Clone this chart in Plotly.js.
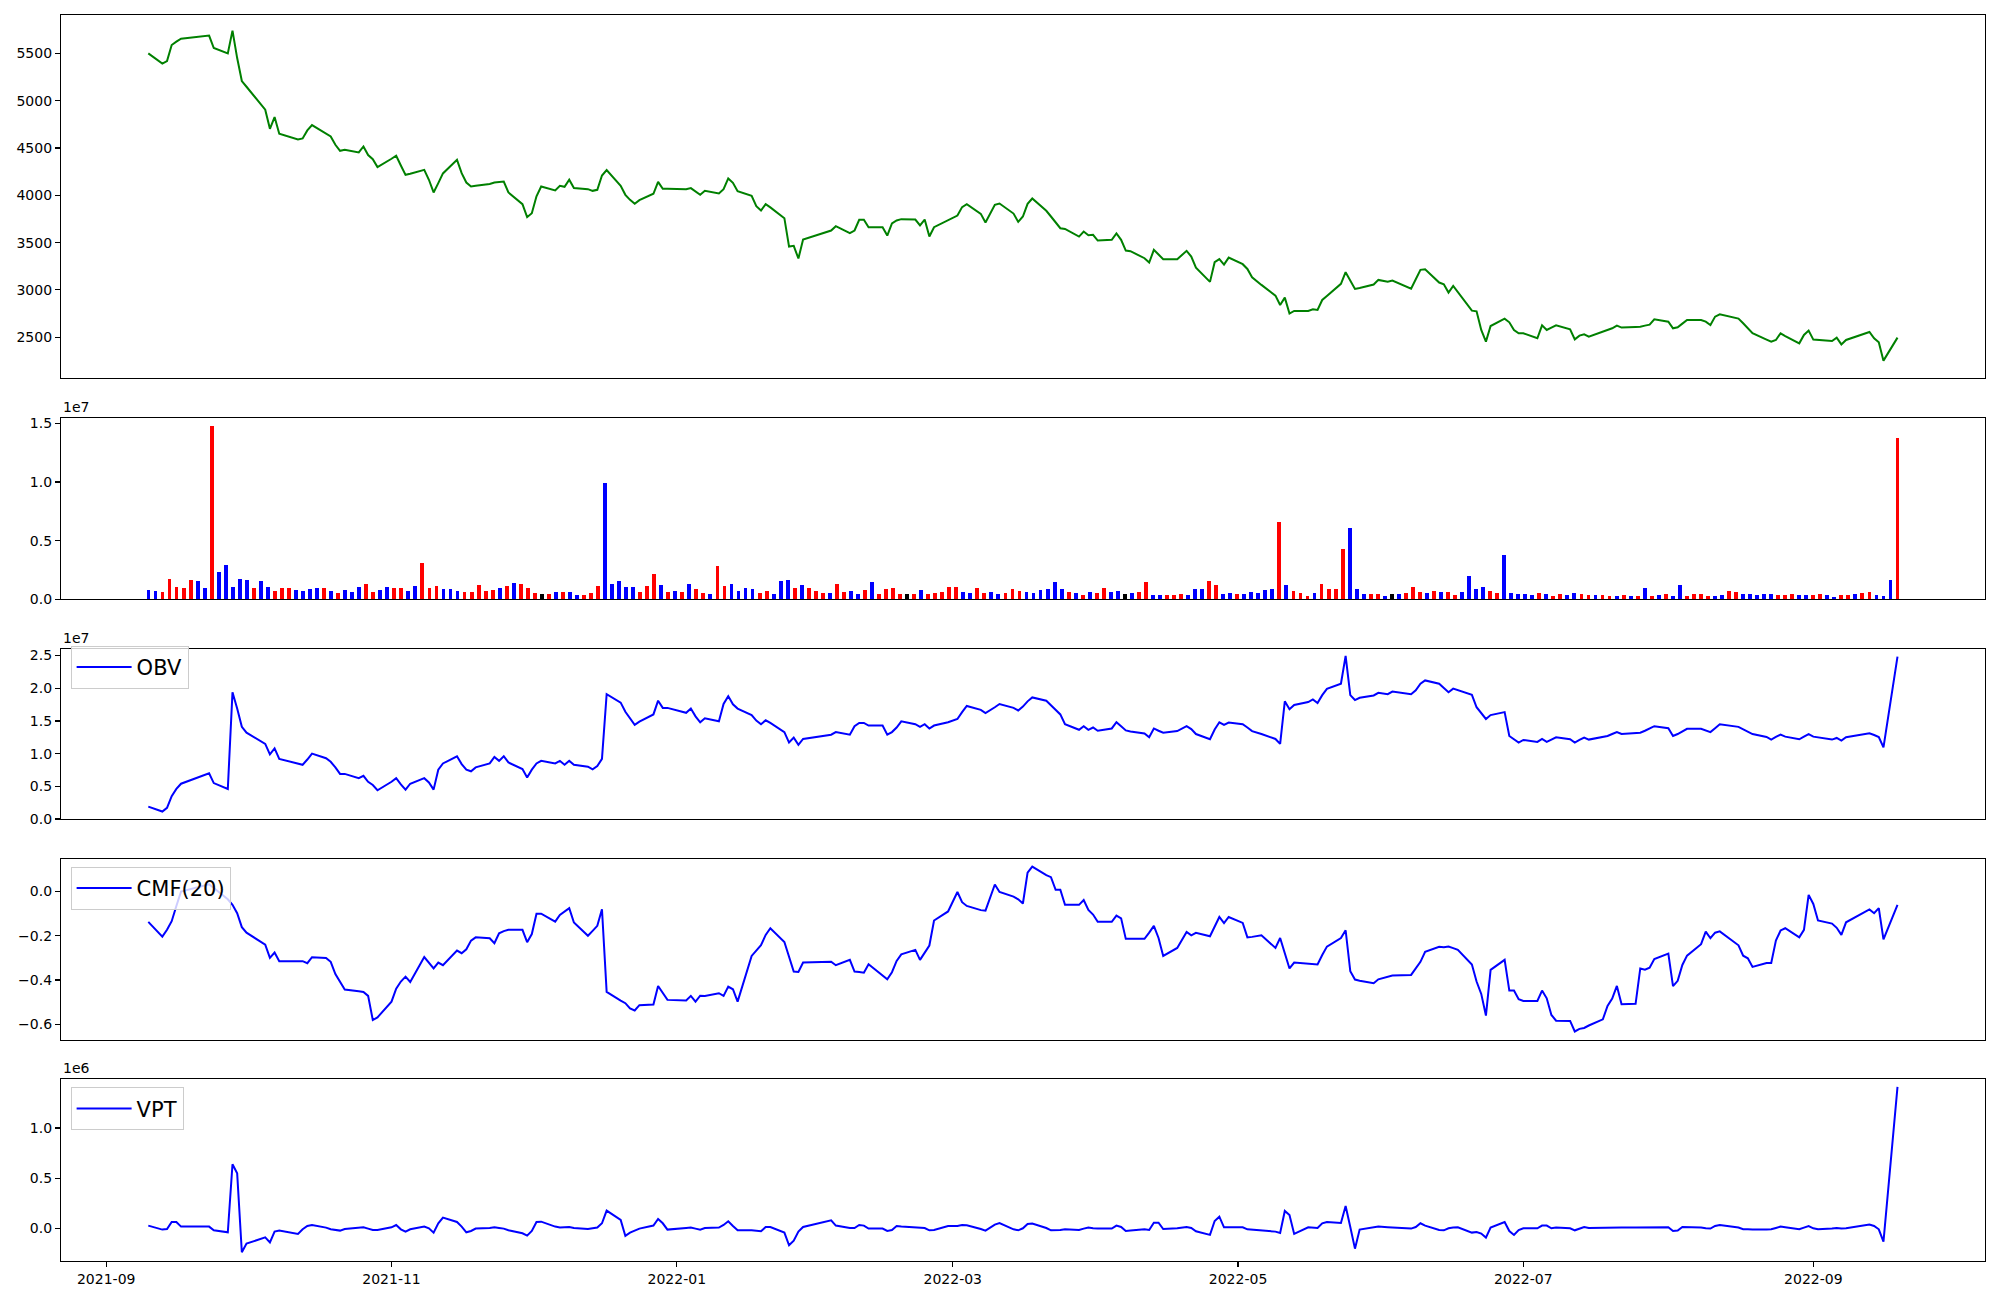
<!DOCTYPE html>
<html>
<head>
<meta charset="utf-8">
<script src="https://cdn.plot.ly/plotly-3.0.1.min.js"></script>
<style>html,body{margin:0;padding:0;background:#fff;}#chart{width:2000px;height:1300px;}</style>
</head>
<body>
<div id="chart"></div>
<script>
// Trading days (KRX calendar)
const dates = [
"2021-09-10","2021-09-13","2021-09-14","2021-09-15","2021-09-16","2021-09-17","2021-09-23","2021-09-24","2021-09-27","2021-09-28","2021-09-29","2021-09-30",
"2021-10-01","2021-10-05","2021-10-06","2021-10-07","2021-10-08","2021-10-12","2021-10-13","2021-10-14","2021-10-15","2021-10-18","2021-10-19","2021-10-20","2021-10-21","2021-10-22","2021-10-25","2021-10-26","2021-10-27","2021-10-28","2021-10-29",
"2021-11-01","2021-11-02","2021-11-03","2021-11-04","2021-11-05","2021-11-08","2021-11-09","2021-11-10","2021-11-11","2021-11-12","2021-11-15","2021-11-16","2021-11-17","2021-11-18","2021-11-19","2021-11-22","2021-11-23","2021-11-24","2021-11-25","2021-11-26","2021-11-29","2021-11-30",
"2021-12-01","2021-12-02","2021-12-03","2021-12-06","2021-12-07","2021-12-08","2021-12-09","2021-12-10","2021-12-13","2021-12-14","2021-12-15","2021-12-16","2021-12-17","2021-12-20","2021-12-21","2021-12-22","2021-12-23","2021-12-24","2021-12-27","2021-12-28","2021-12-29","2021-12-30",
"2022-01-03","2022-01-04","2022-01-05","2022-01-06","2022-01-07","2022-01-10","2022-01-11","2022-01-12","2022-01-13","2022-01-14","2022-01-17","2022-01-18","2022-01-19","2022-01-20","2022-01-21","2022-01-24","2022-01-25","2022-01-26","2022-01-27","2022-01-28",
"2022-02-03","2022-02-04","2022-02-07","2022-02-08","2022-02-09","2022-02-10","2022-02-11","2022-02-14","2022-02-15","2022-02-16","2022-02-17","2022-02-18","2022-02-21","2022-02-22","2022-02-23","2022-02-24","2022-02-25","2022-02-28",
"2022-03-02","2022-03-03","2022-03-04","2022-03-07","2022-03-08","2022-03-10","2022-03-11","2022-03-14","2022-03-15","2022-03-16","2022-03-17","2022-03-18","2022-03-21","2022-03-22","2022-03-23","2022-03-24","2022-03-25","2022-03-28","2022-03-29","2022-03-30","2022-03-31",
"2022-04-01","2022-04-04","2022-04-05","2022-04-06","2022-04-07","2022-04-08","2022-04-11","2022-04-12","2022-04-13","2022-04-14","2022-04-15","2022-04-18","2022-04-19","2022-04-20","2022-04-21","2022-04-22","2022-04-25","2022-04-26","2022-04-27","2022-04-28","2022-04-29",
"2022-05-02","2022-05-03","2022-05-04","2022-05-06","2022-05-09","2022-05-10","2022-05-11","2022-05-12","2022-05-13","2022-05-16","2022-05-17","2022-05-18","2022-05-19","2022-05-20","2022-05-23","2022-05-24","2022-05-25","2022-05-26","2022-05-27","2022-05-30","2022-05-31",
"2022-06-02","2022-06-03","2022-06-07","2022-06-08","2022-06-09","2022-06-10","2022-06-13","2022-06-14","2022-06-15","2022-06-16","2022-06-17","2022-06-20","2022-06-21","2022-06-22","2022-06-23","2022-06-24","2022-06-27","2022-06-28","2022-06-29","2022-06-30",
"2022-07-01","2022-07-04","2022-07-05","2022-07-06","2022-07-07","2022-07-08","2022-07-11","2022-07-12","2022-07-13","2022-07-14","2022-07-15","2022-07-18","2022-07-19","2022-07-20","2022-07-21","2022-07-22","2022-07-25","2022-07-26","2022-07-27","2022-07-28","2022-07-29",
"2022-08-01","2022-08-02","2022-08-03","2022-08-04","2022-08-05","2022-08-08","2022-08-09","2022-08-10","2022-08-11","2022-08-12","2022-08-16","2022-08-17","2022-08-18","2022-08-19","2022-08-22","2022-08-23","2022-08-24","2022-08-25","2022-08-26","2022-08-29","2022-08-30","2022-08-31",
"2022-09-01","2022-09-02","2022-09-05","2022-09-06","2022-09-07","2022-09-08","2022-09-13","2022-09-14","2022-09-15","2022-09-16","2022-09-19"
];

// Close price
const close = [
5500,5391,5419,5588,5623,5655,5687,5556,5500,5740,5450,5207,
5147,4904,4703,4827,4650,4590,4601,4685,4742,4654,4622,4534,4470,4480,4453,4516,4425,4382,4298,
4386,4418,4315,4216,4227,4269,4164,4030,4129,4231,4375,4234,4135,4093,4100,4120,4135,4140,4145,4030,3906,3769,
3811,3990,4093,4051,4100,4090,4164,4076,4065,4047,4058,4209,4266,4100,4005,3952,3910,3949,4016,4142,4068,4068,
4065,4076,4040,4005,4047,4019,4065,4178,4132,4044,3994,3885,3839,3906,3872,3758,3458,3466,3332,3533,
3628,3674,3600,3628,3741,3741,3663,3663,3575,3702,3734,3748,3744,3681,3744,3564,3663,3734,
3786,3875,3906,3804,3712,3899,3913,3807,3719,3776,3910,3966,3836,3776,3716,3652,3645,3564,3617,3578,3582,
3522,3529,3596,3529,3416,3409,3335,3289,3423,3374,3325,3325,3370,3413,3353,3236,3085,3293,3325,3268,3342,
3272,3222,3134,3053,2940,2841,2919,2750,2778,2778,2795,2788,2894,2937,3064,3187,3099,3011,3021,3057,3106,
3088,3099,3014,3113,3212,3219,3078,3060,2972,3043,2979,2781,2774,2577,2454,2619,2697,2658,2577,2542,
2542,2489,2626,2577,2602,2626,2584,2478,2517,2531,2506,2556,2570,2595,2623,2602,2609,2612,2623,2633,2690,
2665,2595,2605,2644,2683,2683,2665,2630,2718,2743,2697,2648,2595,2542,2475,2454,2471,2542,2513,2436,2524,2570,
2475,2471,2461,2496,2425,2471,2556,2489,2447,2253,2496
];

// Volume, in millions of shares
const volumeM = [
0.80,0.71,0.60,1.73,1.05,0.97,1.65,1.56,0.97,14.77,
2.36,2.93,1.05,1.73,1.65,0.97,1.56,1.05,0.71,0.97,
0.97,0.80,0.71,0.88,0.97,0.97,0.71,0.54,0.80,0.63,
1.05,1.31,0.63,0.80,1.05,0.97,0.97,0.71,1.14,3.10,
0.97,1.14,0.88,0.88,0.71,0.63,0.63,1.22,0.71,0.80,
0.97,1.14,1.39,1.31,0.97,0.54,0.45,
0.45,0.63,0.63,0.63,0.37,0.37,0.54,1.14,9.91,1.31,
1.56,1.05,1.05,0.63,1.14,2.16,1.22,0.63,0.71,0.63,
1.31,0.88,0.54,0.45,2.84,1.14,1.31,0.71,0.97,0.88,
0.54,0.71,0.45,1.56,1.65,0.97,1.22,0.97,0.71,0.54,
0.54,1.31,0.63,0.71,0.45,0.80,1.48,0.45,0.88,0.97,
0.45,0.45,0.45,0.80,0.45,0.54,0.63,1.05,1.05,0.63,
0.54,0.97,0.54,0.63,0.45,0.54,0.88,0.71,0.63,
0.54,0.80,0.88,1.48,0.88,0.63,0.54,0.37,0.63,0.54,
0.97,0.63,0.71,0.45,0.54,0.63,1.48,0.37,0.37,0.37,
0.37,0.45,0.37,0.88,0.88,1.56,1.22,0.45,0.54,0.45,
0.45,0.63,0.54,0.80,0.88,6.59,1.22,0.71,0.54,0.28,
0.54,1.31,0.88,0.88,4.29,6.08,0.88,0.45,0.45,0.45,
0.28,0.45,0.45,0.54,1.05,0.63,0.54,0.71,0.63,0.63,
0.37,0.63,1.99,0.88,1.05,0.71,0.54,3.78,
0.54,0.45,0.45,0.37,0.54,0.45,0.28,0.45,0.37,0.54,
0.45,0.37,0.37,0.37,0.28,0.28,0.37,0.28,0.28,0.97,
0.28,0.37,0.45,0.28,1.22,0.28,0.45,0.45,0.28,0.28,
0.37,0.71,0.63,0.45,0.45,0.37,0.45,0.45,0.37,0.37,
0.45,0.37,0.37,0.37,0.45,0.37,0.20,0.37,0.37,0.45,
0.54,0.63,0.37,0.28,1.65,13.75
];

// Candle direction for each volume bar: r = up, b = down, k = unchanged
const volumeDir = (
"bbrrrrrbbr bbbbbrbbrr rbbbbrbrbb brrbbrrbbr rrbbbrrrrr brbrrrk" +
"rbrbbrrrbb bbbrrrbrbr brrbrrbbbb rrbbbrbrrr brrbbrbrrr rkrbrrrrrb brrbbrrrb" +
"bbbbbrbrbr rbbkbrrbbr rrbbbrrbbr bbbbbrbrrr brrrrbbbrr bkbrrrbrbr rbbbbrrb" +
"bbbbrbrrbb rrbrrbrbrb rbrbbrrrrb brrbbbbbrr rbbrrbbrrb rrbbbr"
).replace(/ /g, "").split("");

// On-Balance Volume (x1e7)
const obv = [
0.19,0.115,0.17,0.35,0.46,0.54,0.70,0.55,0.46,1.94,1.69,1.41,
1.32,1.15,0.99,1.08,0.92,0.84,0.83,0.91,1.00,0.93,0.875,0.79,0.69,0.69,0.625,0.66,0.57,0.52,0.44,
0.57,0.625,0.53,0.45,0.54,0.625,0.56,0.45,0.755,0.85,0.96,0.84,0.755,0.73,0.79,0.85,0.95,0.89,0.96,0.865,0.765,0.635,
0.755,0.85,0.89,0.85,0.89,0.83,0.89,0.83,0.80,0.76,0.81,0.92,1.91,1.78,1.64,1.54,1.44,1.49,1.60,1.81,1.70,1.70,
1.625,1.69,1.57,1.48,1.54,1.495,1.76,1.88,1.755,1.69,1.59,1.505,1.45,1.51,1.47,1.33,1.17,1.245,1.135,1.225,
1.29,1.33,1.29,1.42,1.47,1.47,1.43,1.43,1.29,1.33,1.40,1.495,1.45,1.41,1.45,1.385,1.43,1.48,
1.53,1.635,1.73,1.67,1.62,1.71,1.76,1.70,1.66,1.72,1.80,1.86,1.81,1.74,1.67,1.60,1.45,1.365,1.42,1.365,1.40,
1.35,1.385,1.48,1.42,1.355,1.34,1.31,1.25,1.385,1.35,1.32,1.345,1.38,1.42,1.375,1.30,1.22,1.37,1.48,1.44,1.475,
1.45,1.40,1.345,1.30,1.225,1.15,1.80,1.68,1.745,1.79,1.83,1.775,1.895,1.99,2.07,2.495,1.895,1.82,1.855,1.89,1.93,
1.91,1.95,1.91,1.97,2.07,2.12,2.07,2.00,1.94,1.995,1.97,1.90,1.71,1.62,1.53,1.59,1.635,1.27,1.22,1.17,
1.21,1.18,1.225,1.18,1.215,1.25,1.22,1.17,1.21,1.245,1.215,1.25,1.27,1.30,1.33,1.30,1.31,1.32,1.35,1.385,1.42,
1.39,1.27,1.30,1.34,1.38,1.38,1.355,1.33,1.39,1.45,1.41,1.375,1.335,1.30,1.255,1.215,1.255,1.29,1.26,1.22,1.26,1.30,
1.26,1.25,1.215,1.24,1.20,1.25,1.31,1.285,1.255,1.095,2.485
];

// Chaikin Money Flow (20)
const cmf = [
-0.137,-0.204,-0.173,-0.134,-0.065,0.0,0.033,0.015,-0.035,-0.06,-0.098,-0.161,
-0.186,-0.24,-0.30,-0.276,-0.315,-0.315,-0.315,-0.324,-0.297,-0.30,-0.318,-0.373,-0.409,-0.443,-0.451,-0.454,-0.472,-0.581,-0.569,
-0.498,-0.439,-0.407,-0.385,-0.409,-0.296,-0.324,-0.348,-0.321,-0.333,-0.267,-0.279,-0.261,-0.222,-0.207,-0.211,-0.234,-0.189,-0.179,-0.173,-0.173,-0.229,
-0.192,-0.10,-0.10,-0.136,-0.106,-0.09,-0.075,-0.14,-0.20,-0.178,-0.155,-0.08,-0.454,-0.493,-0.505,-0.529,-0.538,-0.514,-0.511,-0.427,-0.46,-0.49,
-0.493,-0.472,-0.498,-0.471,-0.472,-0.46,-0.472,-0.43,-0.442,-0.498,-0.291,-0.267,-0.243,-0.196,-0.166,-0.228,-0.294,-0.362,-0.364,-0.321,
-0.317,-0.333,-0.309,-0.362,-0.364,-0.367,-0.329,-0.379,-0.397,-0.365,-0.314,-0.284,-0.264,-0.309,-0.278,-0.244,-0.131,-0.09,
-0.002,-0.048,-0.065,-0.084,-0.086,0.032,-0.002,-0.023,-0.035,-0.054,0.086,0.113,0.074,0.065,0.008,0.008,-0.06,-0.06,-0.038,-0.083,-0.104,
-0.137,-0.137,-0.109,-0.121,-0.214,-0.214,-0.214,-0.186,-0.155,-0.21,-0.291,-0.255,-0.222,-0.183,-0.198,-0.187,-0.202,-0.16,-0.115,-0.143,-0.115,
-0.142,-0.207,-0.205,-0.198,-0.255,-0.21,-0.279,-0.348,-0.321,-0.327,-0.329,-0.33,-0.287,-0.249,-0.21,-0.175,-0.36,-0.398,-0.403,-0.415,-0.397,
-0.385,-0.38,-0.377,-0.347,-0.318,-0.273,-0.25,-0.252,-0.249,-0.256,-0.264,-0.33,-0.407,-0.463,-0.561,-0.354,-0.309,-0.448,-0.448,-0.487,
-0.495,-0.495,-0.448,-0.483,-0.558,-0.584,-0.585,-0.633,-0.621,-0.617,-0.606,-0.578,-0.517,-0.484,-0.427,-0.51,-0.508,-0.348,-0.353,-0.344,-0.305,
-0.281,-0.428,-0.404,-0.332,-0.29,-0.238,-0.181,-0.211,-0.186,-0.18,-0.243,-0.29,-0.302,-0.341,-0.323,-0.323,-0.222,-0.176,-0.166,-0.207,-0.173,-0.015,
-0.056,-0.131,-0.145,-0.164,-0.196,-0.139,-0.081,-0.098,-0.075,-0.216,-0.06
];

// Volume Price Trend (x1e6)
const vpt = [
0.027,-0.013,-0.007,0.063,0.063,0.017,0.017,-0.02,-0.04,0.638,0.548,-0.239,
-0.153,-0.09,-0.14,-0.033,-0.023,-0.056,-0.01,0.023,0.033,0.007,-0.01,-0.017,-0.023,-0.007,0.007,0.01,-0.003,-0.017,-0.017,
0.01,0.033,-0.01,-0.033,-0.01,0.017,0.0,-0.043,0.05,0.106,0.063,0.017,-0.04,-0.027,-0.003,0.003,0.01,0.003,-0.003,-0.02,-0.05,-0.073,
-0.027,0.063,0.066,0.017,0.007,0.01,0.013,0.003,-0.007,0.0,0.007,0.05,0.176,0.083,-0.076,-0.043,-0.023,-0.003,0.027,0.093,0.05,-0.013,
0.003,0.007,-0.003,-0.013,0.003,0.007,0.033,0.07,0.023,-0.02,-0.02,-0.023,-0.03,0.013,0.013,-0.043,-0.169,-0.123,-0.033,0.013,
0.08,0.027,0.003,0.003,0.033,0.027,-0.003,-0.003,-0.027,-0.017,0.023,0.017,0.007,0.0,0.003,-0.02,-0.017,0.023,
0.023,0.033,0.03,-0.007,-0.023,0.037,0.053,-0.01,-0.02,0.0,0.043,0.047,0.003,-0.02,-0.02,-0.017,-0.01,-0.017,-0.003,0.007,0.0,
-0.003,-0.003,0.027,0.013,-0.027,-0.023,-0.01,-0.017,0.056,0.056,-0.007,0.0,0.007,0.013,0.003,-0.03,-0.066,0.073,0.116,0.01,0.01,
0.01,-0.01,-0.013,-0.02,-0.033,-0.047,0.173,0.133,-0.056,0.01,0.007,0.003,0.05,0.063,0.053,0.223,0.013,-0.203,-0.013,0.013,0.017,
0.01,0.007,-0.003,0.013,0.05,0.027,-0.017,-0.02,0.0,0.007,0.01,-0.043,-0.037,-0.053,-0.093,0.007,0.063,-0.027,-0.066,-0.017,
0.0,0.0,0.027,0.027,0.0,0.007,0.0,-0.02,-0.003,0.013,0.003,0.007,0.01,0.007,0.007,0.007,0.007,0.007,0.01,0.013,0.013,
0.01,-0.027,-0.023,0.013,0.013,0.007,0.0,-0.003,0.023,0.033,0.007,-0.01,-0.01,-0.013,-0.013,-0.01,0.003,0.017,0.01,-0.01,0.007,0.023,
0.0,-0.01,-0.003,0.003,-0.003,0.0,0.037,0.023,-0.01,-0.133,1.409
];

const dirColor = {r: "#ff0000", b: "#0000ff", k: "#000000"};
const FONT = "DejaVu Sans, sans-serif";
const barIndex = volumeM.map((v, i) => i);

const traces = [
  {x: dates, y: close, type: "scatter", mode: "lines", line: {color: "#008000", width: 2}, xaxis: "x", yaxis: "y", showlegend: false, name: "Close"},
  {x: barIndex, y: volumeM, type: "bar", width: 0.55, marker: {color: volumeDir.map(d => dirColor[d]), line: {width: 0}}, xaxis: "x2", yaxis: "y2", showlegend: false, name: "Volume"},
  {x: dates, y: obv, type: "scatter", mode: "lines", line: {color: "#0000ff", width: 2}, xaxis: "x3", yaxis: "y3", name: "OBV", legend: "legend2"},
  {x: dates, y: cmf, type: "scatter", mode: "lines", line: {color: "#0000ff", width: 2}, xaxis: "x4", yaxis: "y4", name: "CMF(20)", legend: "legend3"},
  {x: dates, y: vpt, type: "scatter", mode: "lines", line: {color: "#0000ff", width: 2}, xaxis: "x5", yaxis: "y5", name: "VPT", legend: "legend4"}
];

const dateRange = ["2021-08-22 08:00", "2022-10-07 17:00"];
const frame = {showline: true, mirror: true, linecolor: "#000", linewidth: 1.1, showgrid: false, zeroline: false};
function xAx(anchor, show) {
  return Object.assign({}, frame, {
    type: "date", range: dateRange, anchor: anchor,
    showticklabels: show, ticks: show ? "outside" : "", ticklen: 5, tickwidth: 1.1, tickcolor: "#000",
    tick0: "2021-09-01", dtick: "M2", tickformat: "%Y-%m",
    tickfont: {family: FONT, size: 14, color: "#000"}
  });
}
function yAx(domain, range, extra) {
  return Object.assign({}, frame, {
    domain: domain, range: range, ticks: "outside", ticklen: 5, tickwidth: 1.1, tickcolor: "#000",
    tickfont: {family: FONT, size: 14, color: "#000"}
  }, extra || {});
}
const legendBase = {x: 0.005, xanchor: "left", yanchor: "top", bgcolor: "rgba(255,255,255,0.8)", bordercolor: "#cccccc", borderwidth: 1, font: {family: FONT, size: 21, color: "#000"}, itemwidth: 55};

const layout = {
  width: 2000, height: 1300,
  margin: {l: 61, r: 15, t: 15, b: 39},
  paper_bgcolor: "#fff", plot_bgcolor: "#fff",
  font: {family: FONT, size: 14, color: "#000"},
  showlegend: true,
  bargap: 0,
  xaxis: xAx("y", false),
  xaxis2: Object.assign({}, frame, {type: "linear", range: [-12.45, 261.45], anchor: "y2", showticklabels: false, ticks: ""}),
  xaxis3: xAx("y3", false),
  xaxis4: xAx("y4", false),
  xaxis5: xAx("y5", true),
  yaxis: yAx([0.7084, 1.0], [2066, 5905], {tickvals: [2500, 3000, 3500, 4000, 4500, 5000, 5500]}),
  yaxis2: yAx([0.5311, 0.6768], [0, 15.48], {tickvals: [0, 5, 10, 15], ticktext: ["0.0", "0.5", "1.0", "1.5"]}),
  yaxis3: yAx([0.3545, 0.4914], [-0.004, 2.605], {tickvals: [0, 0.5, 1, 1.5, 2, 2.5], tickformat: ".1f"}),
  yaxis4: yAx([0.1771, 0.3224], [-0.673, 0.146], {tickvals: [-0.6, -0.4, -0.2, 0.0], tickformat: ".1f"}),
  yaxis5: yAx([0, 0.1458], [-0.326, 1.485], {tickvals: [0, 0.5, 1.0], tickformat: ".1f"}),
  legend2: Object.assign({}, legendBase, {y: 0.4938}),
  legend3: Object.assign({}, legendBase, {y: 0.3164}),
  legend4: Object.assign({}, legendBase, {y: 0.1394}),
  annotations: [
    {text: "1e7", xref: "paper", yref: "paper", x: 0, y: 0.6768, xanchor: "left", yanchor: "bottom", yshift: 1, showarrow: false, font: {family: FONT, size: 14, color: "#000"}},
    {text: "1e7", xref: "paper", yref: "paper", x: 0, y: 0.4914, xanchor: "left", yanchor: "bottom", yshift: 1, showarrow: false, font: {family: FONT, size: 14, color: "#000"}},
    {text: "1e6", xref: "paper", yref: "paper", x: 0, y: 0.1458, xanchor: "left", yanchor: "bottom", yshift: 1, showarrow: false, font: {family: FONT, size: 14, color: "#000"}}
  ]
};

Plotly.newPlot("chart", traces, layout, {displayModeBar: false, staticPlot: true});
</script>
</body>
</html>
